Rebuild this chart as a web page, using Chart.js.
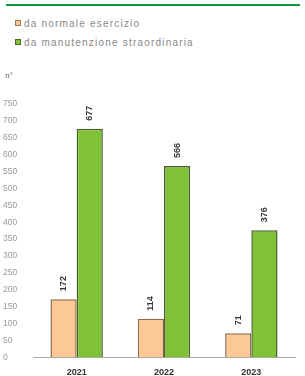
<!DOCTYPE html>
<html>
<head>
<meta charset="utf-8">
<script src="https://cdn.jsdelivr.net/npm/chart.js@4/dist/chart.umd.min.js"></script>
<style>
  body { margin: 0; background: #fff; width: 305px; height: 376px; overflow: hidden; position: relative; font-family: "Liberation Sans", Arial, sans-serif; }
  .topline { position: absolute; left: 6px; top: 4px; width: 294px; height: 2px; background: #0a9b40; }
  .legend { position: absolute; left: 15px; font-size: 10px; letter-spacing: 1.2px; color: #888; line-height: 10px; }
  .legend span.box { display: inline-block; width: 4px; height: 4px; margin-right: 3px; border: 1px solid #777; vertical-align: 1px; }
  #wrap { position: absolute; left: 0; top: 60px; width: 305px; height: 327px; }
</style>
</head>
<body>
<div class="topline"></div>
<div class="legend" style="top:19px"><span class="box" style="background:#fcc893;border-color:#9a7a55"></span>da normale esercizio</div>
<div class="legend" style="top:38px"><span class="box" style="background:#80c236;border-color:#4c6a28"></span>da manutenzione straordinaria</div>
<div id="wrap"><canvas id="chart"></canvas></div>
<script>
const years = ["2021", "2022", "2023"];
const normale = [172, 114, 71];
const straordinaria = [677, 566, 376];
const seriesNames = ["da normale esercizio", "da manutenzione straordinaria"];

// labels written vertically above each bar
const barLabels = {
    id: "barLabels",
    afterDatasetsDraw(chart) {
        const ctx = chart.ctx;
        ctx.save();
        ctx.font = "bold 9px 'Liberation Sans', Arial, sans-serif";
        ctx.fillStyle = "#333";
        ctx.textAlign = "left";
        ctx.textBaseline = "middle";
        chart.data.datasets.forEach((ds, i) => {
            chart.getDatasetMeta(i).data.forEach((bar, j) => {
                ctx.save();
                ctx.translate(bar.x, bar.y - 8);
                ctx.rotate(-Math.PI / 2);
                ctx.fillText(ds.data[j], 0, 0);
                ctx.restore();
            });
        });
        // unit above the y axis
        const y = chart.scales.y;
        ctx.font = "8px 'Liberation Sans', Arial, sans-serif";
        ctx.fillStyle = "#555";
        ctx.textAlign = "center";
        ctx.fillText("n°", 9, y.top - 28);
        ctx.restore();
    }
};

const ctx = document.getElementById("chart").getContext("2d");
const myChart = new Chart(ctx, {
    type: "bar",
    data: {
        labels: years,
        datasets: [{
            label: seriesNames[0],
            data: normale,
            backgroundColor: "#fcc893",
            borderColor: "#8c6c4c",
            borderWidth: 1.5,
            categoryPercentage: 0.6,
            barPercentage: 1
        }, {
            label: seriesNames[1],
            data: straordinaria,
            backgroundColor: "#80c236",
            borderColor: "#4a5e2c",
            borderWidth: 1.5,
            categoryPercentage: 0.6,
            barPercentage: 1
        }]
    },
    options: {
        responsive: true,
        maintainAspectRatio: false,
        animation: false,
        layout: { padding: { top: 44, right: 10, left: 3, bottom: 0 } },
        plugins: { legend: { display: false }, tooltip: { enabled: false } },
        scales: {
            x: {
                grid: { display: false, drawTicks: false },
                border: { color: "#aaa", width: 1 },
                ticks: { color: "#333", font: { size: 9, weight: "bold" }, padding: 9.5 }
            },
            y: {
                min: 0,
                max: 750,
                afterFit: (s) => { s.width = 30; },
                grid: { display: false, drawTicks: false },
                border: { display: false },
                ticks: { stepSize: 50, color: "#999", font: { size: 8.5 }, padding: 4, crossAlign: "far" }
            }
        }
    },
    plugins: [barLabels]
});
</script>
</body>
</html>
